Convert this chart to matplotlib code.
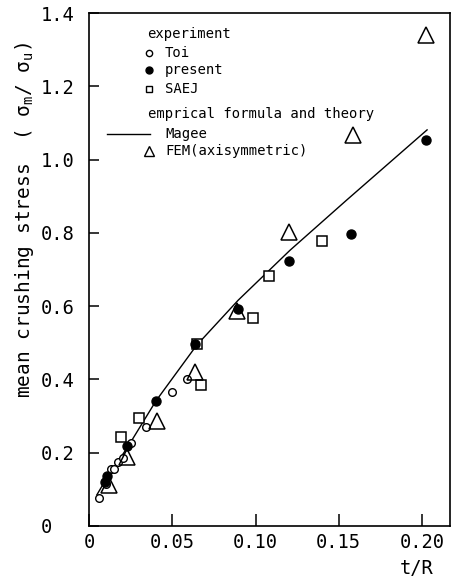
import matplotlib
matplotlib.use("Agg")
import matplotlib.pyplot as plt

# ---- data ----
toi_x = [0.0058, 0.010, 0.013, 0.015, 0.0174, 0.020, 0.025, 0.0338, 0.0495, 0.0585]
toi_y = [0.075, 0.115, 0.155, 0.156, 0.175, 0.186, 0.227, 0.269, 0.366, 0.400]

present_x = [0.0095, 0.0108, 0.0228, 0.040, 0.0635, 0.0896, 0.120, 0.1577, 0.2024]
present_y = [0.120, 0.136, 0.219, 0.341, 0.496, 0.593, 0.723, 0.796, 1.054]

saej_x = [0.019, 0.030, 0.0645, 0.0671, 0.0986, 0.108, 0.1397]
saej_y = [0.243, 0.294, 0.496, 0.386, 0.567, 0.682, 0.779]

fem_x = [0.012, 0.0228, 0.0405, 0.0635, 0.0890, 0.120, 0.1587, 0.2028]
fem_y = [0.112, 0.187, 0.287, 0.421, 0.586, 0.802, 1.066, 1.341]

magee_x = [0.0045, 0.011, 0.023, 0.040, 0.0645, 0.0895, 0.1206, 0.1547, 0.2032]
magee_y = [0.085, 0.135, 0.215, 0.341, 0.493, 0.616, 0.752, 0.889, 1.081]

x_ticks = [0, 0.05, 0.10, 0.15, 0.20]
x_ticklabels = ["0", "0.05", "0.10", "0.15", "0.20"]
y_ticks = [0, 0.2, 0.4, 0.6, 0.8, 1.0, 1.2, 1.4]
y_ticklabels = ["0", "0.2", "0.4", "0.6", "0.8", "1.0", "1.2", "1.4"]

# ---- figure ----
MONO = 'DejaVu Sans Mono'
plt.rcParams['font.family'] = [MONO, 'DejaVu Sans']
plt.rcParams['mathtext.fontset'] = 'custom'
plt.rcParams['mathtext.rm'] = MONO
plt.rcParams['mathtext.it'] = MONO
plt.rcParams['mathtext.bf'] = MONO

fig = plt.figure(figsize=(4.51, 5.78), dpi=100)
ax = fig.add_axes([0.1982, 0.09, 0.7996, 0.8875])

ax.plot(magee_x, magee_y, color='black', lw=1.0, zorder=2)
ax.plot(toi_x, toi_y, linestyle='none', marker='o', ms=5.5, mfc='white',
        mec='black', mew=1.0, zorder=3)
ax.plot(saej_x, saej_y, linestyle='none', marker='s', ms=7.5, mfc='white',
        mec='black', mew=1.1, zorder=3)
ax.plot(fem_x, fem_y, linestyle='none', marker='^', ms=11.5, mfc='none',
        mec='black', mew=1.1, zorder=4)
ax.plot(present_x, present_y, linestyle='none', marker='o', ms=6.5,
        mfc='black', mec='black', zorder=5)

ax.set_xlim(0, 0.217)
ax.set_ylim(0, 1.4)
ax.set_xticks(x_ticks)
ax.set_xticklabels(x_ticklabels)
ax.set_yticks(y_ticks)
ax.set_yticklabels(y_ticklabels, ha='left')

ax.tick_params(axis='y', direction='in', length=7, width=1.1, pad=35,
               labelsize=13.5, colors='black')
ax.tick_params(axis='x', direction='in', length=8.5, width=1.1, pad=5,
               labelsize=13.5, colors='black')
for s in ax.spines.values():
    s.set_linewidth(1.2)

ax.set_xlabel("t/R", fontsize=13.5)
ax.xaxis.set_label_coords(0.9085, -0.064)
ax.set_ylabel(r"mean crushing stress  ( σ$_{\rm m}$/ σ$_{\rm u}$)", fontsize=14)
ax.yaxis.set_label_coords(-0.1786, 0.596)
ax.yaxis.label.set_verticalalignment('center')

# ---- legend (drawn in axes coordinates) ----
mono = dict(family=MONO, fontsize=10, va='center', ha='left',
            transform=ax.transAxes)
ax.text(0.160, 0.959, "experiment", **mono)
ax.plot([0.165], [0.923], transform=ax.transAxes, marker='o', ms=4.5,
        mfc='white', mec='black', mew=1.0, linestyle='none', clip_on=False)
ax.text(0.210, 0.923, "Toi", **mono)
ax.plot([0.165], [0.889], transform=ax.transAxes, marker='o', ms=5,
        mfc='black', mec='black', linestyle='none', clip_on=False)
ax.text(0.210, 0.889, "present", **mono)
ax.plot([0.165], [0.852], transform=ax.transAxes, marker='s', ms=5,
        mfc='white', mec='black', mew=1.0, linestyle='none', clip_on=False)
ax.text(0.210, 0.852, "SAEJ", **mono)
ax.text(0.1625, 0.804, "emprical formula and theory", **mono)
ax.plot([0.049, 0.168], [0.765, 0.765], transform=ax.transAxes, color='black',
        lw=1.0, clip_on=False)
ax.text(0.210, 0.765, "Magee", **mono)
ax.plot([0.165], [0.731], transform=ax.transAxes, marker='^', ms=6.5,
        mfc='white', mec='black', mew=1.0, linestyle='none', clip_on=False)
ax.text(0.210, 0.731, "FEM(axisymmetric)", **mono)

fig.savefig("out.png", dpi=100)
